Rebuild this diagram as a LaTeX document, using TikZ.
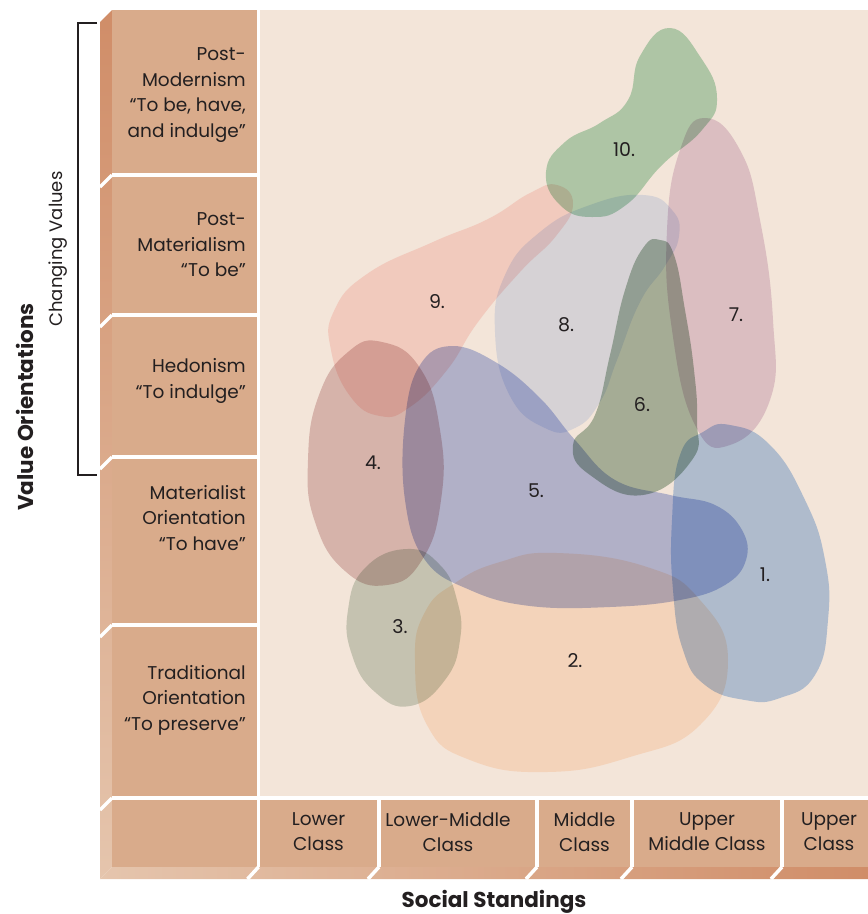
\documentclass[tikz,border=0pt]{standalone}
\usepackage{fontspec}
\setmainfont{Poppins}

\definecolor{ink}{RGB}{35,31,32}
\definecolor{field}{RGB}{243,229,217}
\definecolor{brick}{RGB}{217,171,139}
\definecolor{edgedark}{RGB}{208,141,104}
\definecolor{edgelight}{RGB}{229,197,173}
% group colours (multiplied onto the field)
\definecolor{grpA}{RGB}{184,209,240}
\definecolor{grpB}{RGB}{255,236,219}
\definecolor{grpC}{RGB}{207,217,207}
\definecolor{grpD}{RGB}{225,200,200}
\definecolor{grpE}{RGB}{186,196,234}
\definecolor{grpF}{RGB}{174,192,176}
\definecolor{grpG}{RGB}{230,212,227}
\definecolor{grpH}{RGB}{225,234,251}
\definecolor{grpI}{RGB}{253,226,223}
\definecolor{grpJ}{RGB}{183,220,195}

\tikzset{
	lbl/.style={font=\fontsize{18.5}{25.5}\selectfont, text=ink, align=right, anchor=east, inner sep=0pt},
	cls/.style={font=\fontsize{18.5}{25}\selectfont, text=ink, align=center, inner sep=0pt},
	num/.style={font=\fontsize{19}{22}\selectfont, text=ink, inner sep=0pt},
	axislbl/.style={font=\bfseries\fontsize{21.5}{24}\selectfont, text=ink, inner sep=0pt},
	blob/.style={fill=#1, blend mode=multiply},
	gap/.style={white, line width=3.5pt},
}

\begin{document}
\begin{tikzpicture}[x=1pt,y=-1pt]
	\useasboundingbox (0,0) rectangle (868,914);
	
	% field and the bevelled frame
	\fill[field] (260,10) rectangle (868,796);
	\shade[top color=edgedark, bottom color=edgelight] (112,10) -- (100,22) -- (100,879) -- (112,867) -- cycle;
	\shade[left color=edgelight, right color=edgedark] (100,879) -- (112,867) -- (868,867) -- (868,879) -- cycle;
	
	\foreach \t/\b in {10/173, 177/313, 317/455, 459/623, 627/796, 800/867}
	{
		\fill[brick] (112,\t) rectangle (257,\b);
	}
	\foreach \l/\r in {260/377, 381/535, 539/630, 634/780, 784/868}
	{
		\fill[brick] (\l,800) rectangle (\r,867);
	}
	
	% white seams through the bevels
	\foreach \y in {175, 315, 457, 625, 798}
	{
		\draw[gap] (112,\y) -- (100,\y+12);
	}
	\foreach \x in {258.5, 379, 537, 632, 782}
	{
		\draw[gap] (\x,867) -- (\x-11,879);
	}
	
	% groups
	\fill[blob=grpD] plot[smooth cycle, tension=0.8] coordinates {(382,342) (420,368) (440,430) (441,500) (422,560) (387,585) (345,571) (315,522) (308,460) (319,395) (348,352)};
	\fill[blob=grpI] plot[smooth cycle, tension=0.8] coordinates {(557,185) (573,204) (556,236) (520,272) (478,322) (447,370) (410,407) (380,416) (350,396) (331,350) (334,311) (367,274) (433,242) (488,219) (530,193)};
	\fill[blob=grpJ] plot[smooth cycle, tension=0.8] coordinates {(670,28) (701,58) (717,98) (702,130) (662,165) (626,205) (592,217) (560,205) (546,172) (565,142) (600,123) (628,100) (640,56)};
	\fill[blob=grpH] plot[smooth cycle, tension=0.8] coordinates {(643,195) (672,210) (679,236) (665,266) (640,302) (617,360) (600,402) (575,428) (545,428) (510,396) (495,332) (505,275) (540,232) (590,205)};
	\fill[blob=grpG] plot[smooth cycle, tension=0.8] coordinates {(705,118) (740,150) (760,220) (773,320) (770,400) (730,445) (695,425) (672,330) (667,230) (680,150)};
	\fill[blob=grpB] plot[smooth cycle, tension=0.8] coordinates {(557,553) (647,567) (700,600) (728,660) (700,725) (630,757) (547,772) (470,760) (427,725) (415,660) (425,612) (455,583) (500,562)};
	\fill[blob=grpC] plot[smooth cycle, tension=0.8] coordinates {(407,549) (440,565) (457,600) (460,640) (445,680) (410,706) (375,692) (352,655) (348,610) (365,568)};
	\fill[blob=grpE] plot[smooth cycle, tension=0.7] coordinates {(452,346) (497,363) (540,398) (575,440) (615,480) (670,495) (715,505) (742,530) (746,560) (725,585) (680,600) (610,607) (530,606) (470,590) (425,560) (405,500) (405,420) (420,365)};
	\fill[blob=grpF] plot[smooth cycle, tension=0.8] coordinates {(660,240) (674,255) (685,310) (694,370) (697,420) (692,460) (643,495) (590,475) (573,445) (595,415) (610,355) (625,290) (643,248)};
	\fill[blob=grpA] plot[smooth cycle, tension=0.8] coordinates {(730,425) (770,445) (805,500) (825,560) (828,620) (815,675) (780,698) (745,700) (705,685) (683,650) (673,590) (672,520) (680,455) (703,432)};
	
	\node[num] (n1) at (765,575) {1.};
	\node[num] (n2) at (575,661) {2.};
	\node[num] (n3) at (400,627) {3.};
	\node[num] (n4) at (373,463) {4.};
	\node[num] (n5) at (536,491) {5.};
	\node[num] (n6) at (642,405) {6.};
	\node[num] (n7) at (736,315) {7.};
	\node[num] (n8) at (566,325) {8.};
	\node[num] (n9) at (437,302) {9.};
	\node[num] (n10) at (624,150) {10.};
	
	% value orientations
	\node[lbl] (postmod) at (246,95) {Post-\\Modernism\\“To be, have,\\and indulge”};
	\node[lbl] (postmat) at (246,245) {Post-\\Materialism\\“To be”};
	\node[lbl] (hedon) at (246,381) {Hedonism\\“To indulge”};
	\node[lbl] (mater) at (246,518) {Materialist\\Orientation\\“To have”};
	\node[lbl] (tradit) at (246,700) {Traditional\\Orientation\\“To preserve”};
	
	% social standings
	\node[cls] (lower) at (318.5,832) {Lower\\Class};
	\node[cls] (lowmid) at (448,832) {Lower-Middle\\Class};
	\node[cls] (middle) at (584.5,832) {Middle\\Class};
	\node[cls] (upmid) at (707,832) {Upper\\Middle Class};
	\node[cls] (upper) at (829,832) {Upper\\Class};
	
	% axis captions and bracket
	\coordinate (brtop) at (97,23);
	\coordinate (brbot) at (97,475);
	\draw[ink, line width=1.1pt] (brtop) -- ++(-19,0) |- (brbot);
	\node[font=\fontsize{18}{22}\selectfont, text=ink, rotate=90] (changing) at (58,249) {Changing Values};
	\node[axislbl, rotate=90] (valor) at (25,407) {Value Orientations};
	\node[axislbl] (social) at (494,902) {Social Standings};
	
\end{tikzpicture}
\end{document}
